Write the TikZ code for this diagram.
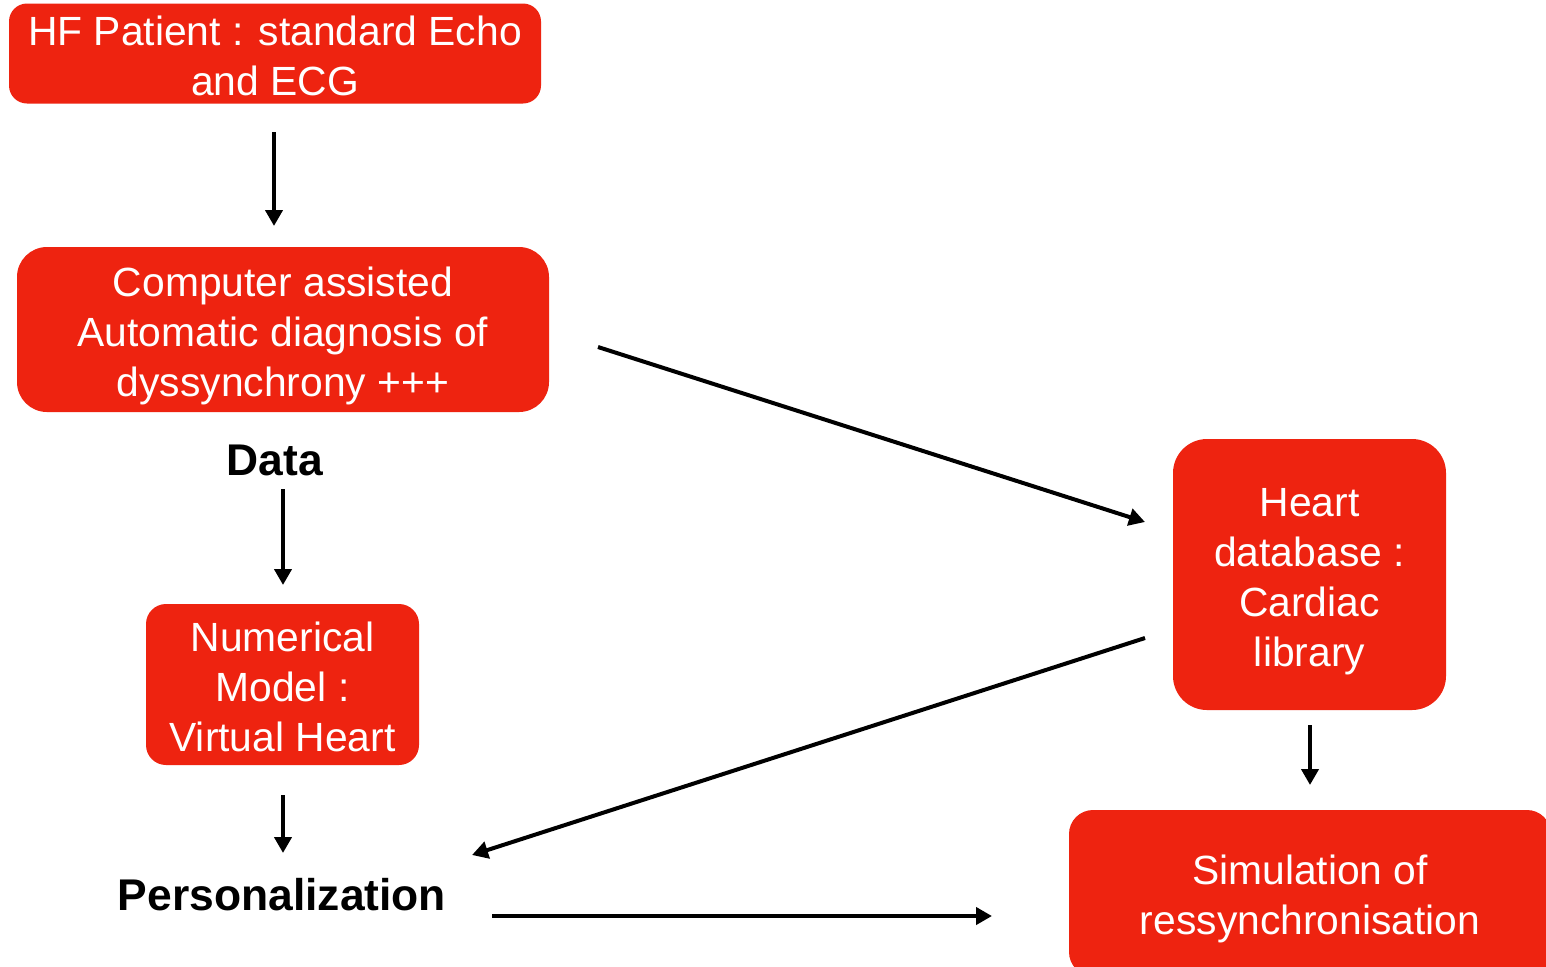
\documentclass[tikz,border=0pt]{standalone}
\usepackage{fontspec}
\setmainfont{Liberation Sans}
\usetikzlibrary{arrows.meta}
\definecolor{boxred}{HTML}{EE2310}
\newcommand{\boxtext}[1]{\raisebox{-3.3pt}[\height][\depth]{\setlength{\tabcolsep}{0pt}\begin{tabular}{c}#1\end{tabular}}}
\tikzset{
  box/.style={fill=boxred, draw=none, text=white, inner sep=0pt,
    font=\fontsize{20.4}{25}\selectfont},
  lbl/.style={font=\fontsize{22.2}{26}\selectfont\bfseries, inner sep=0pt},
  arr/.style={line width=2pt, -{Triangle[length=8pt,width=8.5pt]}}
}
\begin{document}
\begin{tikzpicture}[x=0.5pt,y=-0.5pt]
\clip (0,0) rectangle (1546,966);
\useasboundingbox (0,0) rectangle (1546,966);
\fill[white] (0,0) rectangle (1546,966);
\node[box, minimum width=266pt, minimum height=48.5pt, rounded corners=9pt] (hf) at (275,53.5) {\boxtext{HF Patient : standard Echo\\and ECG}};
\node[box, minimum width=266pt, minimum height=82.5pt, rounded corners=15pt] (cad) at (283,329.5) {\boxtext{Computer assisted\\Automatic diagnosis of\\dyssynchrony +++}};
\node[box, minimum width=136.5pt, minimum height=80.5pt, rounded corners=10pt] (num) at (282.5,684.5) {\boxtext{Numerical\\Model :\\Virtual Heart}};
\node[box, minimum width=136.5pt, minimum height=135.5pt, rounded corners=17pt] (lib) at (1309.5,574.5) {\boxtext{Heart\\database :\\Cardiac\\library}};
\node[box, minimum width=241pt, minimum height=83pt, rounded corners=12pt] (sim) at (1310,893) {\boxtext{Simulation of\\ressynchronisation}};
\node[lbl] (data) at (275,460) {Data};
\node[lbl] (pers) at (282,895) {Personalization};
\coordinate (a1s) at (274,132); \coordinate (a1e) at (274,226);
\coordinate (a2s) at (283,489); \coordinate (a2e) at (283,585);
\coordinate (a3s) at (283,795); \coordinate (a3e) at (283,853);
\coordinate (a4s) at (1310,725); \coordinate (a4e) at (1310,785);
\coordinate (a5s) at (598,347); \coordinate (a5e) at (1145,522);
\coordinate (a6s) at (1145,638); \coordinate (a6e) at (472,855);
\coordinate (a7s) at (492,916); \coordinate (a7e) at (992,916);
\draw[arr] (a1s) -- (a1e);
\draw[arr] (a2s) -- (a2e);
\draw[arr] (a3s) -- (a3e);
\draw[arr] (a4s) -- (a4e);
\draw[arr] (a5s) -- (a5e);
\draw[arr] (a6s) -- (a6e);
\draw[arr] (a7s) -- (a7e);
\end{tikzpicture}
\end{document}
